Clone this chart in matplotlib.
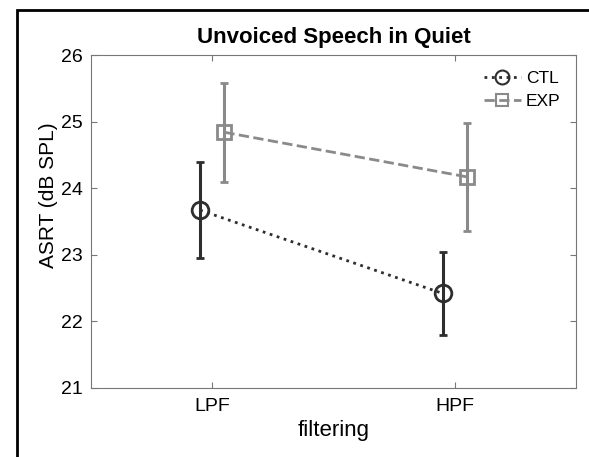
import numpy as np
import matplotlib
matplotlib.use("Agg")
import matplotlib.pyplot as plt
from matplotlib.patches import Rectangle
from matplotlib.lines import Line2D

plt.rcParams['font.family'] = ['Liberation Sans', 'DejaVu Sans']

# data
conditions = ["LPF", "HPF"]
ctl_mean = [23.67, 22.42]
ctl_err = [0.72, 0.62]
exp_mean = [24.84, 24.17]
exp_err = [0.74, 0.81]

ctl_col = '#2e2e2e'
exp_col = '#8a8a8a'

x = np.arange(1, len(conditions) + 1)
shift = 0.05

fig = plt.figure(figsize=(5.89, 4.57), dpi=100)
# black frame round the figure (cut off at right and bottom)
fig.patches.append(Rectangle((17/589, -0.1), 1.2, 1.1 - 10/457,
                             transform=fig.transFigure, fill=False,
                             edgecolor='black', linewidth=2))
ax = fig.add_axes([91/589, 1 - 388/457, 485/589, 333/457])

ax.errorbar(x - shift, ctl_mean, yerr=ctl_err, color=ctl_col, ls=':',
            lw=2, marker='o', ms=12, mfc='none', mew=2, capsize=3,
            elinewidth=2.2, capthick=2.2)
ax.errorbar(x + shift, exp_mean, yerr=exp_err, color=exp_col, ls='--',
            lw=2, marker='s', ms=10, mfc='none', mew=2, capsize=3,
            elinewidth=2.2, capthick=2.2)

ax.set_xlim(0.5, 2.5)
ax.set_ylim(21, 26)
ax.set_xticks(x)
ax.set_xticklabels(conditions)
ax.set_yticks(np.arange(21, 27, 1))
ax.tick_params(direction='in', top=True, right=True, labelsize=14,
               color='#777777', length=4)
ax.tick_params(axis='x', pad=7)
ax.tick_params(axis='y', pad=6)
for s in ax.spines.values():
    s.set_color('#777777')
    s.set_linewidth(0.8)

ax.set_title("Unvoiced Speech in Quiet", fontsize=16, fontweight='bold', pad=9)
ax.set_xlabel("filtering", fontsize=16, labelpad=4)
ax.set_ylabel("ASRT (dB SPL)", fontsize=15)
ax.yaxis.set_label_coords(-0.068, 0.58)

handles = [Line2D([], [], color=ctl_col, ls=':', lw=2, marker='o', ms=10,
                  mfc='none', mew=1.5),
           Line2D([], [], color=exp_col, ls='--', lw=2, marker='s', ms=9,
                  mfc='none', mew=1.5)]
ax.legend(handles, ['CTL', 'EXP'], loc='upper right', frameon=False,
          fontsize=12.5, handlelength=2.1, handletextpad=0.3,
          labelspacing=0.45)

fig.savefig("out.png", dpi=100)
